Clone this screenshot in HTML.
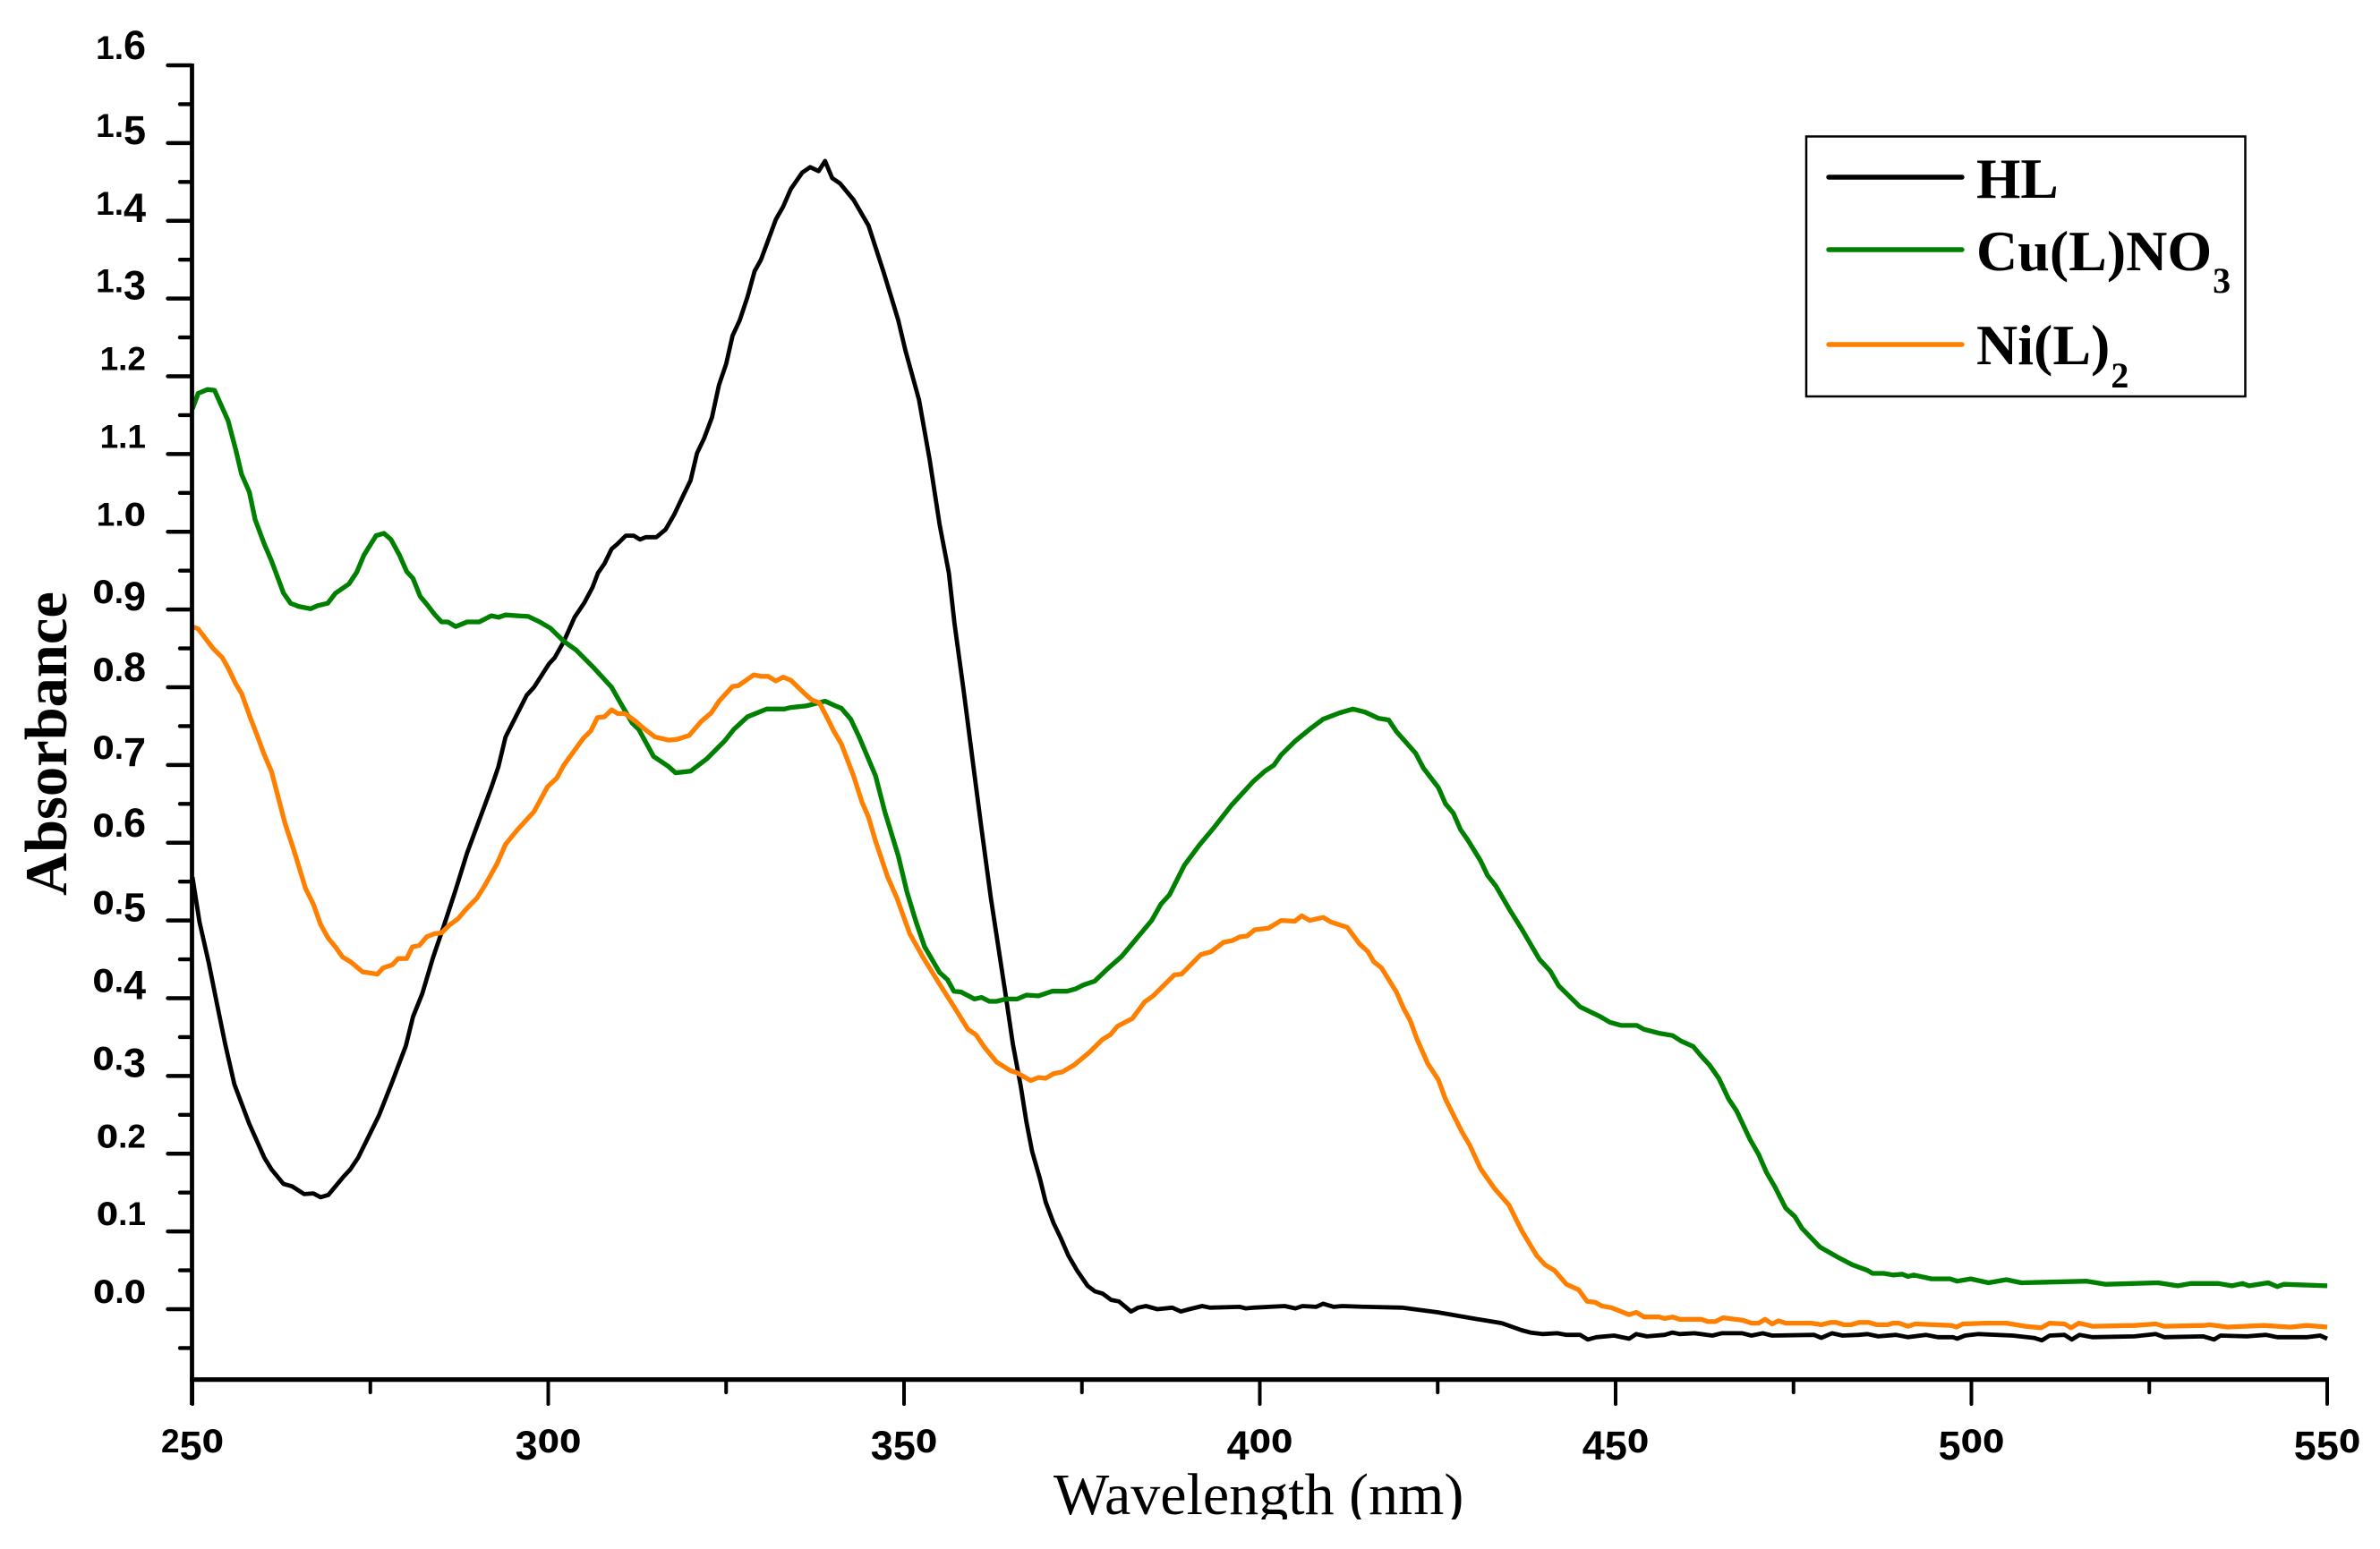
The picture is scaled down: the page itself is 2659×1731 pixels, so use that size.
<!DOCTYPE html>
<html lang="en">
<head>
<meta charset="utf-8">
<title>Absorbance spectra of HL, Cu(L)NO3 and Ni(L)2</title>
<style>
  html, body { margin: 0; padding: 0; background: #fff; }
  svg { display: block; }
  .serif { font-family: "Liberation Serif", serif; }
  .tick-text { font-family: "Liberation Sans", sans-serif; font-weight: 700; fill: #000; }
  .zero-digit { font-family: "DejaVu Sans", "Liberation Sans", sans-serif; }
</style>
</head>
<body>
<svg id="chart" xmlns="http://www.w3.org/2000/svg" width="2659" height="1731" viewBox="0 0 2659 1731">
  <defs>
    <clipPath id="title-clip"><rect x="1100" y="1600" width="700" height="98"></rect></clipPath>
  </defs>
  <rect x="0" y="0" width="2659" height="1731" fill="#ffffff"></rect>
  <g id="series-layer" fill="none" stroke-linejoin="round" stroke-linecap="butt"></g>
  <g id="axis-layer"></g>

  <text class="serif" font-weight="700" font-size="66.5" text-anchor="middle" transform="translate(74 831) rotate(-90)">Absorbance</text>
  <g clip-path="url(#title-clip)">
    <text class="serif" font-size="66" x="1177" y="1692">Wavelength (nm)</text>
  </g>

  <g>
    <rect x="2018" y="152.5" width="490.5" height="290.5" fill="#fff" stroke="#000" stroke-width="2.5"></rect>
    <line x1="2043" x2="2192" y1="198" y2="198" stroke="#000" stroke-width="5.4" stroke-linecap="round"></line>
    <line x1="2043" x2="2192" y1="279" y2="279" stroke="#008000" stroke-width="5.4" stroke-linecap="round"></line>
    <line x1="2043" x2="2192" y1="385" y2="385" stroke="#ff8000" stroke-width="5.4" stroke-linecap="round"></line>
    <text class="serif" font-weight="700" font-size="63.5" x="2208" y="221">HL</text>
    <text class="serif" font-weight="700" font-size="64" x="2208" y="302">Cu(L)NO<tspan font-size="40" dy="25" dx="1">3</tspan></text>
    <text class="serif" font-weight="700" font-size="64" x="2208" y="407">Ni(L)<tspan font-size="40" dy="26" dx="1">2</tspan></text>
  </g>
</svg>

<script>
const xTickLabels = ['250', '300', '350', '400', '450', '500', '550'];
const xMinorTicks = [275, 325, 375, 425, 475, 525];
const yTickLabels = ['0.0', '0.1', '0.2', '0.3', '0.4', '0.5', '0.6', '0.7', '0.8', '0.9', '1.0', '1.1', '1.2', '1.3', '1.4', '1.5', '1.6'];
const yMinorTicks = [-0.05, 0.05, 0.15, 0.25, 0.35, 0.45, 0.55, 0.65, 0.75, 0.85, 0.95, 1.05, 1.15, 1.25, 1.35, 1.45, 1.55];

const hlWavelength = [
  250,251,252.3,253.4,254.6,255.9,258,260.1,261.1,262.8,
  264,265.7,267,268,269.1,271.2,272.2,273.3,275.4,276.2,
  278.1,280,281,282.3,283.8,285.4,286.9,288.6,290.3,292,
  293,294,295.5,297,298,300.1,300.9,302.2,303.7,305.1,
  306.2,307,307.9,308.9,309.7,310.9,312,312.9,313.7,315.2,
  316.5,317.7,319,320,320.9,321.9,323,324,325,325.9,
  326.9,328,329,329.9,330.9,332,333,334.1,335.7,336.8,
  338,338.9,339.9,341,342.9,345,347.1,348.3,349.2,350.2,
  352.1,353.6,355,356.3,357.1,358.4,359.6,360.9,362.2,364.3,
  365.3,366.4,367.2,368,369.1,369.9,371,372,373.1,374.3,
  375.8,376.8,377.9,379.1,380.2,381.9,382.9,384,385.6,387.7,
  388.9,390.1,391.9,393,397.2,398,399.1,403.5,405,406,
  407.9,408.9,410.4,411.6,415,420,425,430,434,436.8,
  438,439.7,441.8,443.1,445,446.1,447.3,449.8,451.9,452.9,
  454.4,456.9,458,459,461.1,463.6,464.9,467.8,469.1,470.7,
  472,477.9,478.9,480.4,481.9,484.2,485.4,486.9,489.4,491.1,
  493.6,495.3,497.4,498,499.1,501,505.8,508.8,509.9,511,
  513.1,514.1,515.2,517,522.9,525.9,527.1,532.6,534.1,535,
  538.7,541.4,543,547.2,549,550
];
const hlAbsorbance = [
  .556,.498,.445,.395,.341,.289,.238,.195,.18,.161,
  .158,.148,.149,.144,.147,.17,.18,.195,.234,.249,
  .293,.339,.376,.406,.452,.495,.537,.587,.629,.671,
  .698,.736,.763,.79,.8,.83,.838,.859,.89,.909,
  .928,.947,.959,.978,.984,.995,.995,.99,.993,.993,
  1.003,1.022,1.047,1.066,1.101,1.12,1.147,1.189,1.216,1.252,
  1.272,1.302,1.335,1.35,1.375,1.402,1.418,1.441,1.462,1.469,
  1.464,1.477,1.455,1.448,1.427,1.394,1.335,1.299,1.272,1.233,
  1.17,1.093,1.009,.947,.882,.794,.709,.617,.529,.403,
  .341,.287,.241,.203,.168,.138,.111,.092,.069,.05,
  .03,.023,.02,.012,.01,-.003,.002,.004,0,.002,
  -.003,0,.004,.002,.003,.001,.002,.004,.001,.004,
  .003,.007,.003,.004,.003,.002,-.004,-.012,-.018,-.027,
  -.03,-.032,-.031,-.033,-.033,-.039,-.036,-.034,-.038,-.032,
  -.035,-.033,-.03,-.032,-.031,-.034,-.031,-.031,-.034,-.031,
  -.034,-.033,-.037,-.031,-.034,-.033,-.032,-.035,-.033,-.036,
  -.033,-.036,-.036,-.038,-.034,-.032,-.034,-.037,-.04,-.034,
  -.033,-.039,-.033,-.036,-.035,-.032,-.036,-.035,-.039,-.034,
  -.035,-.033,-.036,-.036,-.034,-.038
];

const cuWavelength = [
  250,250.8,252.1,253.1,255,256.1,256.9,258,258.8,260.1,
  261.1,262.8,263.8,264.9,266.6,267.6,269,270.1,272,273.1,
  274.1,275.8,276.9,277.9,279.1,280.1,281,282,282.9,284,
  285,285.9,287,288.6,290.3,292,293,294,295.7,297.2,
  298.8,300.3,302.2,303.9,306.4,308.9,310.2,311.8,312.7,314.8,
  316.9,317.9,320,322.3,324.8,326.1,328,330.7,333.2,334.1,
  336.2,338.9,340.4,341.2,342.5,343.7,346,347.3,349.2,350.4,
  351.7,352.9,355,356.1,357,358,359.9,360.9,362,363,
  364.3,365.9,367.2,368.9,370.8,372.9,374.1,375.2,376.8,378.5,
  380.6,382.7,384.8,386.1,387.3,389.4,391.5,393.6,396,399.1,
  400.7,402,403,405,407,408.9,411.2,413.1,414.8,416.7,
  418.1,419.2,421.9,423,425.1,426.1,427.2,428.2,429.2,431,
  432,433.2,435.1,436.8,439.3,440.8,442,445,447.9,449.2,
  450.8,453,454,456.1,458,459.2,460.9,462,463.2,464.5,
  465.9,467,468.9,470.1,471.2,472.4,473.9,475.2,476.2,478.7,
  481.2,483.3,485.4,486.1,487.7,489,490.3,491.1,491.9,494.4,
  497,498,499.9,502.4,504.9,507,516.2,518.9,526.2,529,
  530.8,534.7,536.6,538.1,539,541.7,543,543.9,550
];
const cuAbsorbance = [
  1.158,1.178,1.183,1.182,1.143,1.105,1.074,1.051,1.016,.984,
  .963,.921,.908,.904,.901,.905,.908,.921,.933,.948,
  .97,.995,.998,.99,.97,.949,.94,.917,.907,.894,
  .884,.884,.878,.884,.884,.892,.89,.893,.892,.891,
  .884,.876,.859,.848,.825,.8,.779,.754,.746,.711,
  .698,.69,.692,.708,.731,.746,.762,.772,.772,.774,
  .776,.782,.776,.773,.759,.736,.686,.64,.583,.537,
  .498,.466,.433,.424,.409,.408,.399,.401,.396,.396,
  .399,.399,.404,.403,.409,.409,.412,.417,.422,.437,
  .454,.477,.5,.521,.533,.571,.597,.62,.648,.679,
  .692,.7,.713,.731,.746,.759,.767,.772,.768,.76,
  .758,.743,.715,.696,.671,.65,.638,.617,.604,.577,
  .558,.544,.514,.489,.45,.435,.416,.389,.376,.369,
  .365,.365,.36,.355,.352,.345,.338,.326,.314,.297,
  .27,.255,.218,.199,.176,.157,.13,.119,.104,.08,
  .067,.057,.05,.046,.046,.044,.045,.042,.044,.039,
  .039,.036,.039,.034,.038,.034,.036,.032,.034,.03,
  .033,.033,.03,.033,.03,.034,.029,.032,.03
];

const niWavelength = [
  250,250.8,252.9,254.2,255,256.1,256.9,258.2,259,260.1,
  261.1,261.7,263,264.3,265.9,267,268,269.1,270.1,271.1,
  272.2,273.9,276,276.8,278.1,278.9,280.1,280.9,281.9,282.9,
  284,285,286.1,287.3,288.4,290,291.1,292.8,294,295.7,
  298,299.9,301.2,302.2,304.9,306,306.9,307.9,308.9,309.8,
  310.8,312.3,313.3,315,316.9,318.1,319.8,321.5,322.9,324,
  325.9,326.7,328.9,329.9,330.9,332,333,334.1,336,337,
  338.1,339.3,340.1,341.2,342.9,344.1,345,346,347.7,349,
  350.8,352.9,355,357.1,359,360.1,361.3,363,364.9,365.9,
  367.8,368.9,369.9,371,372.2,373.9,376,377.9,379,380,
  382.1,383.8,385,388,389,391.7,393.2,394.9,396.1,397.2,
  398.2,399.3,401.2,403,404.9,405.9,407,408.9,410,412.3,
  414,415.2,416,417.1,419.2,420.2,421.1,422.1,423.6,425.1,
  426.1,428.4,429.5,431,433,435,436.8,438.9,440.1,441.4,
  443.1,444.8,446,447.1,448.1,449.4,451.9,452.9,454,456.1,
  456.9,458,459,462,463,464,465.1,467.8,469.1,470.1,
  471,472,472.9,473.9,477.5,478.9,480.2,481,482.1,483.1,
  484.2,485.6,486.7,488.2,489,489.8,491.1,492.1,494.7,497.2,
  497.9,498.8,502.1,504.9,507.6,509.8,511,513.1,514,515.1,
  517,522.9,525.9,527.1,532.6,533.5,536,541.1,544.8,547.2,
  550
];
const niAbsorbance = [
  .878,.875,.85,.838,.825,.804,.792,.759,.74,.713,
  .692,.671,.625,.589,.541,.521,.495,.477,.466,.453,
  .447,.434,.431,.439,.443,.451,.451,.466,.468,.479,
  .483,.484,.494,.502,.514,.529,.545,.573,.598,.617,
  .64,.672,.683,.7,.734,.744,.761,.762,.771,.766,
  .766,.756,.748,.736,.732,.733,.738,.756,.767,.782,
  .801,.802,.816,.814,.814,.808,.813,.809,.792,.784,
  .78,.759,.744,.727,.686,.652,.633,.602,.556,.529,
  .483,.449,.418,.388,.36,.353,.337,.318,.307,.304,
  .294,.298,.297,.303,.305,.314,.33,.347,.353,.364,
  .374,.395,.403,.43,.431,.456,.46,.472,.474,.479,
  .48,.488,.49,.5,.499,.506,.5,.504,.498,.491,
  .47,.46,.447,.439,.408,.387,.372,.347,.316,.295,
  .27,.228,.211,.181,.155,.134,.101,.069,.057,.05,
  .032,.025,.01,.009,.004,.002,-.007,-.004,-.01,-.01,
  -.012,-.01,-.013,-.013,-.016,-.016,-.011,-.014,-.018,-.018,
  -.013,-.019,-.015,-.018,-.018,-.02,-.017,-.017,-.02,-.02,
  -.017,-.017,-.02,-.02,-.018,-.018,-.022,-.019,-.02,-.021,
  -.023,-.019,-.018,-.018,-.022,-.024,-.018,-.019,-.024,-.018,
  -.022,-.021,-.019,-.022,-.021,-.02,-.023,-.021,-.023,-.021,
  -.023
];

const SVG_NS = 'http://www.w3.org/2000/svg';
const plotLeft = 215;
const plotRight = 2600;
const plotBottom = 1541.7;
const plotTop = 71;

function xScale(nm) {
  return plotLeft + (nm - 250) * (plotRight - plotLeft) / 300;
}
function yScale(a) {
  return 1463 - a * 868.75;
}
function make(tag, attrs) {
  const el = document.createElementNS(SVG_NS, tag);
  for (const k in attrs) el.setAttribute(k, attrs[k]);
  return el;
}

const seriesLayer = document.getElementById('series-layer');
const axisLayer = document.getElementById('axis-layer');

function drawSeries(name, wavelengths, values, color, width) {
  const pts = wavelengths.map((w, i) => xScale(w).toFixed(1) + ',' + yScale(values[i]).toFixed(1)).join(' ');
  const line = make('polyline', { points: pts, stroke: color, 'stroke-width': width });
  
  
  seriesLayer.appendChild(line);
}
drawSeries('series-hl', hlWavelength, hlAbsorbance, '#000000', 4.8);
drawSeries('series-cu-l-no3', cuWavelength, cuAbsorbance, '#008000', 5.3);
drawSeries('series-ni-l-2', niWavelength, niAbsorbance, '#ff8000', 5.3);

const yAxisLine = make('line', { x1: 214.5, x2: 214.5, y1: plotTop, y2: 1570, stroke: '#000', 'stroke-width': 4.8 });


axisLayer.appendChild(yAxisLine);

const xAxisLine = make('line', { x1: 212, x2: 2602, y1: plotBottom, y2: plotBottom, stroke: '#000', 'stroke-width': 5.2 });


axisLayer.appendChild(xAxisLine);

function drawYTick(value, left, name) {
  const y = yScale(value);
  const t = make('line', { x1: left, x2: 214, y1: y, y2: y, stroke: '#000', 'stroke-width': 4.4, 'stroke-linecap': 'round' });
  
  
  axisLayer.appendChild(t);
}
function drawXTick(value, bottom, name) {
  const x = xScale(value);
  const t = make('line', { x1: x, x2: x, y1: plotBottom, y2: bottom, stroke: '#000', 'stroke-width': 4, 'stroke-linecap': 'round' });
  
  
  axisLayer.appendChild(t);
}

/* old-style figures: some digits hang below the baseline, some rise above it */
function digitStyle(ch) {
  if (ch === '3' || ch === '4' || ch === '5' || ch === '7' || ch === '9') return { size: 45, shift: 8 };
  if (ch === '6' || ch === '8') return { size: 45, shift: 0 };
  if (ch === '0') return { size: 35, shift: 0, zero: true };
  return { size: 37, shift: 0 };
}
function fillLabel(textEl, label) {
  let offset = 0;
  for (const ch of label) {
    const st = digitStyle(ch);
    const span = make('tspan', { 'font-size': st.size, dy: st.shift - offset });
    if (st.zero) span.setAttribute('class', 'zero-digit');
    span.textContent = ch;
    offset = st.shift;
    textEl.appendChild(span);
  }
}

yTickLabels.forEach(label => {
  const v = parseFloat(label);
  drawYTick(v, 187.5, 'y-major-tick');
  const txt = make('text', { x: 163, y: yScale(v) - 7, 'text-anchor': 'end', class: 'tick-text' });
  
  
  fillLabel(txt, label);
  axisLayer.appendChild(txt);
});
yMinorTicks.forEach(v => drawYTick(v, 201, 'y-minor-tick'));

xTickLabels.forEach(label => {
  const v = parseFloat(label);
  drawXTick(v, 1569, 'x-major-tick');
  const txt = make('text', { x: xScale(v), y: 1623, 'text-anchor': 'middle', class: 'tick-text' });
  
  
  fillLabel(txt, label);
  axisLayer.appendChild(txt);
});
xMinorTicks.forEach(v => drawXTick(v, 1556, 'x-minor-tick'));
</script>
</body>
</html>
